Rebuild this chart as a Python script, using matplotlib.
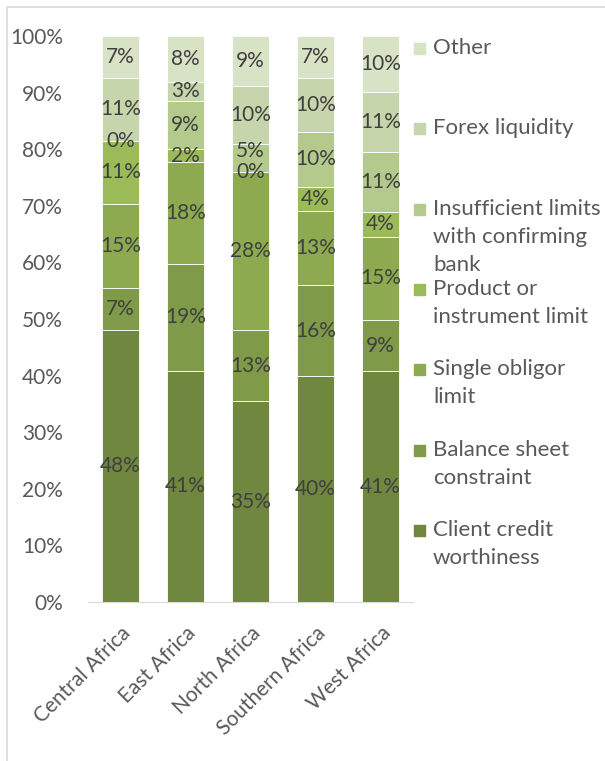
import matplotlib.pyplot as plt
import numpy as np
from matplotlib.patches import Rectangle

plt.rcParams['font.family'] = ['Lato', 'DejaVu Sans']

regions = ["Central Africa", "East Africa", "North Africa", "Southern Africa", "West Africa"]

# series, bottom to top (% of respondents)
client_credit = [48.1, 40.9, 35.4, 39.9, 40.7]
balance_sheet = [7.4, 18.9, 12.6, 16.1, 9.1]
single_obligor = [14.8, 18.0, 27.9, 13.1, 14.7]
product_limit = [11.1, 2.2, 0.0, 4.3, 4.4]
insufficient = [0.0, 8.6, 4.9, 9.6, 10.6]
forex = [11.1, 3.3, 10.3, 9.6, 10.6]
other = [7.4, 8.1, 8.8, 7.4, 9.8]

series_names = ["Client credit\nworthiness", "Balance sheet\nconstraint", "Single obligor\nlimit",
                "Product or\ninstrument limit", "Insufficient limits\nwith confirming\nbank",
                "Forex liquidity", "Other"]
colors = ['#6F873E', '#7F9A48', '#8DAA50', '#9BBB59', '#B3CA8C', '#C6D5AB', '#D8E2C5']

data = np.array([client_credit, balance_sheet, single_obligor, product_limit,
                 insufficient, forex, other])
shares = data / data.sum(axis=0)  # 100% stacked

fig = plt.figure(figsize=(6.05, 7.61), dpi=100)
ax = fig.add_axes([0.1455, 0.209, 0.537, 0.7435])

# chart border (cut off on right and bottom)
fig.patches.append(Rectangle((7 / 605, -0.1), 1.2, 1 - 7 / 761 + 0.1, transform=fig.transFigure,
                             fill=False, edgecolor='#D9D9D9', linewidth=1.2))

x = np.arange(len(regions))
bottom = np.zeros(len(regions))
for i in range(len(series_names)):
    ax.bar(x, shares[i], 0.57, bottom=bottom, color=colors[i], edgecolor='white', linewidth=0.6)
    for j in range(len(regions)):
        ypos = bottom[j] + shares[i][j] / 2
        # nudge small labels sitting just above an empty segment
        if i > 0 and data[i - 1][j] == 0 and data[i][j] < 6:
            ypos += 0.012
        ax.text(x[j], ypos, f"{round(data[i][j])}%",
                ha='center', va='center', fontsize=15, color='#404040')
    bottom += shares[i]

ax.set_xlim(-0.5, 4.5)
ax.set_ylim(0, 1)
ax.set_yticks(np.arange(0, 1.01, 0.1))
ax.set_yticklabels([f"{v}%" for v in range(0, 101, 10)])
ax.set_xticks(x)
ax.set_xticklabels(regions, rotation=45, ha='right', rotation_mode='anchor', fontsize=17)
ax.tick_params(length=0, labelsize=15, labelcolor='#595959')
ax.tick_params(axis='y', pad=18)
ax.tick_params(axis='x', pad=15)
for s in ['top', 'right', 'left']:
    ax.spines[s].set_visible(False)
ax.spines['bottom'].set_color('#D9D9D9')

# legend, top to bottom
for k in range(len(series_names)):
    idx = len(series_names) - 1 - k
    ytop = 1 - (38 + k * 80.3) / 761
    fig.patches.append(Rectangle((414 / 605, ytop - 16 / 761), 11 / 605, 11 / 761,
                                 transform=fig.transFigure, color=colors[idx]))
    fig.text(433 / 605, ytop, series_names[idx], ha='left', va='top', fontsize=16,
             color='#595959', linespacing=1.5)

fig.savefig('out.png', dpi=100)
